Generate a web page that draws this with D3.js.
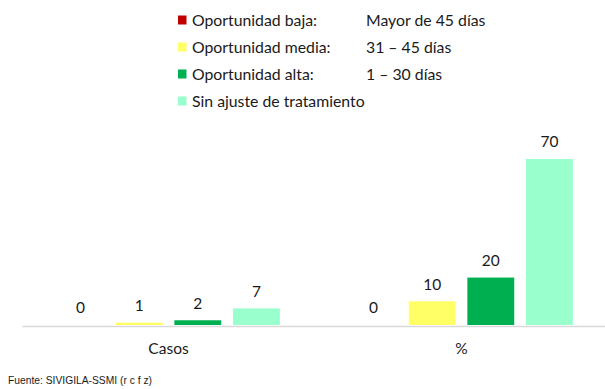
<!DOCTYPE html>
<html>
<head>
<meta charset="utf-8">
<script src="https://cdn.jsdelivr.net/npm/d3@7"></script>
<style>
  html, body { margin: 0; padding: 0; background: #fff; }
  svg { display: block; }
  text { font-family: Lato, "Open Sans", sans-serif; fill: #1a1a1a; }
</style>
</head>
<body>
<svg id="chart" width="605" height="389"></svg>
<script>
// Categories on the x axis
const categories = ["Casos", "%"];
// Series (opportunity of treatment adjustment)
const seriesNames = ["Oportunidad baja:", "Oportunidad media:", "Oportunidad alta:", "Sin ajuste de tratamiento"];
const seriesRanges = ["Mayor de 45 días", "31 – 45 días", "1 – 30 días", ""];
const seriesColors = ["#C00000", "#FFFF66", "#00B050", "#99FFCC"];
// Values per series, one per category
const baja = [0, 0];
const media = [1, 10];
const alta = [2, 20];
const sinAjuste = [7, 70];
const source = "Fuente: SIVIGILA-SSMI (r c f z)";

const seriesValues = [baja, media, alta, sinAjuste];

const svg = d3.select("#chart");

const x0 = d3.scaleBand().domain(categories).range([22, 608]);
const x1 = d3.scaleBand().domain(d3.range(seriesNames.length))
  .range([0, x0.bandwidth()]).paddingInner(0.2).paddingOuter(0.6);
const y = d3.scaleLinear().domain([0, 70]).range([325, 159]);

// Bars and value labels
categories.forEach((cat, ci) => {
  const g = svg.append("g").attr("transform", `translate(${x0(cat)},0)`);
  seriesValues.forEach((vals, si) => {
    const v = vals[ci];
    g.append("rect")
      .attr("x", x1(si))
      .attr("y", y(v))
      .attr("width", x1.bandwidth())
      .attr("height", y(0) - y(v))
      .attr("fill", seriesColors[si]);
    g.append("text")
      .attr("x", x1(si) + x1.bandwidth() / 2)
      .attr("y", y(v) - 17)
      .attr("dy", "0.35em")
      .attr("text-anchor", "middle")
      .style("font-size", "15.5px")
      .text(v);
  });
});

// Category axis
const xAxis = svg.append("g")
  .attr("transform", `translate(0,${y(0) + 1})`)
  .call(d3.axisBottom(x0).tickSize(0).tickPadding(17));
xAxis.select(".domain").attr("stroke", "#d9d9d9").attr("stroke-width", 1.5);
xAxis.selectAll(".tick text")
  .style("font-family", "Lato, 'Open Sans', sans-serif")
  .style("font-size", "15.5px")
  .attr("fill", "#1a1a1a");

// Legend
const legend = svg.append("g");
seriesNames.forEach((name, i) => {
  const cy = 20 + i * 27;
  legend.append("rect")
    .attr("x", 178).attr("y", cy - 4.5)
    .attr("width", 8.5).attr("height", 9)
    .attr("fill", seriesColors[i]);
  legend.append("text")
    .attr("x", 192).attr("y", cy).attr("dy", "0.35em")
    .style("font-size", "15.8px")
    .text(name);
  if (seriesRanges[i]) {
    legend.append("text")
      .attr("x", 366).attr("y", cy).attr("dy", "0.35em")
      .style("font-size", "15.8px")
      .text(seriesRanges[i]);
  }
});

// Source note
svg.append("text")
  .attr("x", 8).attr("y", 380).attr("dy", "0.35em")
  .attr("textLength", 144)
  .attr("lengthAdjust", "spacingAndGlyphs")
  .style("font-family", "'Liberation Sans Narrow', 'Arial Narrow', sans-serif")
  .style("font-size", "11px")
  .text(source);
</script>
</body>
</html>
